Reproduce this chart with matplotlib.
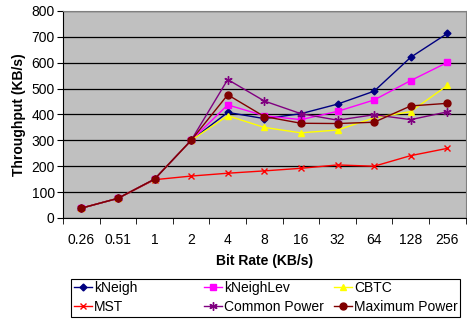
import numpy as np
import matplotlib.pyplot as plt
from matplotlib.patches import Rectangle

plt.rcParams['font.family'] = ['Liberation Sans', 'DejaVu Sans']

rates = ['0.26', '0.51', '1', '2', '4', '8', '16', '32', '64', '128', '256']

kneigh = [38, 76, 150, 300, 408, 384, 403, 440, 490, 621, 713]
kneighlev = [38, 76, 150, 300, 437, 395, 380, 412, 456, 531, 601]
cbtc = [38, 76, 150, 300, 395, 350, 329, 340, 387, 411, 512]
mst = [38, 76, 148, 162, 173, 182, 192, 205, 200, 241, 269]
common = [38, 76, 150, 300, 535, 452, 403, 378, 399, 380, 410]
maxpower = [38, 76, 150, 300, 476, 392, 366, 365, 370, 433, 443]

fig = plt.figure(figsize=(4.67, 3.22), dpi=100)
ax = fig.add_axes([0.135, 0.323, 0.862, 0.643])
ax.set_facecolor('#C0C0C0')

x = np.arange(len(rates))
# kolejnosc rysowania: MST na spodzie, Maximum Power na wierzchu
h_mst, = ax.plot(x, mst, color='#FF0000', marker='x', ms=5, mew=1, lw=1, label='MST')
h_kn, = ax.plot(x, kneigh, color='#000080', marker='D', ms=3.5, lw=1, label='kNeigh')
h_knl, = ax.plot(x, kneighlev, color='#FF00FF', marker='s', ms=5, lw=1, label='kNeighLev')
h_cb, = ax.plot(x, cbtc, color='#FFFF00', marker='^', ms=5, lw=1, label='CBTC')
h_cp, = ax.plot(x, common, color='#800080', marker=(6, 2, 0), ms=6, mew=1, lw=1, label='Common Power')
h_mp, = ax.plot(x, maxpower, color='#800000', marker='o', ms=5, lw=1, label='Maximum Power')

ax.set_xlim(-0.5, len(rates) - 0.5)
ax.set_ylim(0, 800)
ax.set_yticks(range(0, 801, 100))
ax.yaxis.grid(True, color='black', lw=0.9)
ax.set_axisbelow(True)

ax.set_xticks(x)
ax.set_xticklabels(rates)
ax.set_xticks(np.arange(-0.5, len(rates), 1), minor=True)
ax.tick_params(axis='x', which='major', length=0, pad=11, labelsize=10)
ax.tick_params(axis='x', which='minor', length=4, direction='out', color='black')
ax.tick_params(axis='y', length=4, direction='out', labelsize=10, pad=2)

for s in ['top', 'right']:
    ax.spines[s].set_color('#808080')
ax.spines['left'].set_color('black')
ax.spines['bottom'].set_color('black')

ax.set_xlabel('Bit Rate (KB/s)', fontweight='bold', fontsize=10, labelpad=5)
ax.set_ylabel('Throughput (KB/s)', fontweight='bold', fontsize=10, labelpad=4)

# legenda jak w Excelu: ramka + trzy kolumny o rownej szerokosci
fig.add_artist(Rectangle((0.152, 0.016), 0.833, 0.118, transform=fig.transFigure,
                         fill=False, edgecolor='black', lw=0.8))
columns = [[h_kn, h_mst], [h_knl, h_cp], [h_cb, h_mp]]
col_x = [74 / 467, 204 / 467, 334 / 467]
for hs, cx in zip(columns, col_x):
    fig.legend(hs, [h.get_label() for h in hs], loc='upper left',
               bbox_to_anchor=(cx, 1 - 281 / 322), frameon=False, fontsize=10,
               handlelength=1.3, handletextpad=0.15, borderpad=0,
               borderaxespad=0, labelspacing=0.35)

fig.savefig('out.png', dpi=100)
